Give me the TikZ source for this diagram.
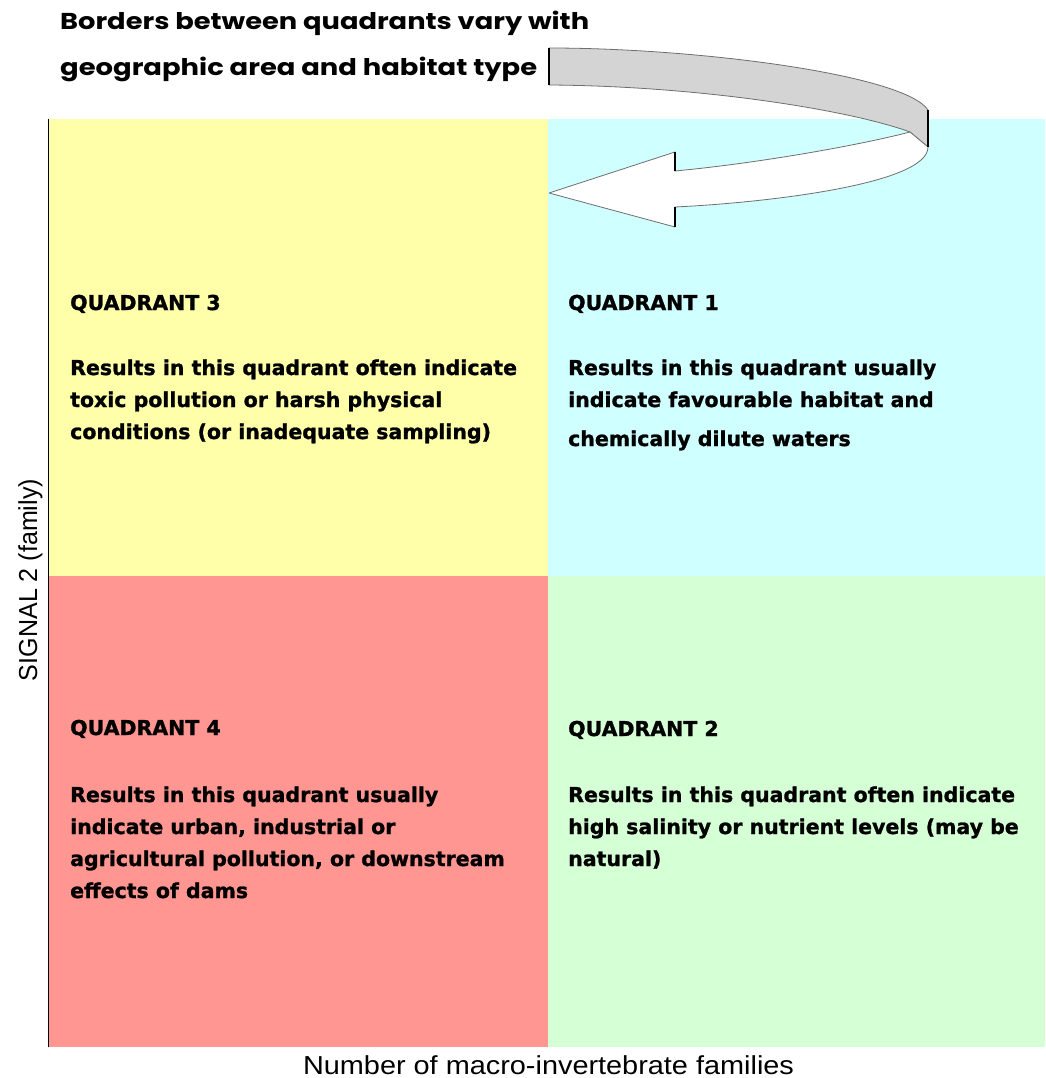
\documentclass[tikz,border=0pt]{standalone}
\usepackage{fontspec}
\usepackage{graphicx}
\newfontfamily\qfont{DejaVu Sans}[BoldFeatures={FakeBold=1.2}]
\newfontfamily\tfont{Poppins}
\newfontfamily\afont{Liberation Sans}
\newlength\fitlen
\newcommand\fitto[2]{\settowidth\fitlen{#2}\pgfmathsetmacro\fitfac{(#1)/\fitlen}\scalebox{\fitfac}[1]{#2}}
\definecolor{qyellow}{RGB}{255,255,170}
\definecolor{qcyan}{RGB}{208,255,255}
\definecolor{qred}{RGB}{255,150,145}
\definecolor{qgreen}{RGB}{213,255,213}
\definecolor{ribgrey}{RGB}{212,212,212}
\definecolor{ribedge}{RGB}{110,110,110}
\tikzset{
  qtext/.style={anchor=base west, inner sep=0pt, font=\qfont\bfseries\fontsize{20.5}{24}\selectfont},
  ttext/.style={anchor=base west, inner sep=0pt, font=\tfont\bfseries\fontsize{23}{27}\selectfont},
  axtext/.style={anchor=base, inner sep=0pt, font=\afont\fontsize{26}{30}\selectfont},
  ribbon/.style={draw=ribedge, line width=0.8pt, line join=round},
  endbar/.style={draw=black, line width=1.6pt},
}
\begin{document}
\begin{tikzpicture}[x=1pt,y=-1pt]
\useasboundingbox (0,0) rectangle (1045,1078);
% quadrants
\fill[qyellow] (48,119) rectangle (548,576);
\fill[qcyan] (548,119) rectangle (1045,576);
\fill[qred] (48,576) rectangle (548,1047);
\fill[qgreen] (548,576) rectangle (1045,1047);
\draw[black, line width=1.5pt] (48.5,119) -- (48.5,1047);
% title
\node[ttext] (t1) at (60,30) {\fitto{529pt}{Borders between quadrants vary with}};
\node[ttext] (t2) at (60,76) {\fitto{477pt}{geographic area and habitat type}};
% ribbon arrow
\coordinate (g0) at (549,48);
\coordinate (g1) at (549,85);
\coordinate (r0) at (928,110);
\coordinate (r1) at (928,147);
\coordinate (f) at (910,132);
\coordinate (a0) at (675,171);
\coordinate (a1) at (675,152);
\coordinate (tip) at (549,193);
\coordinate (a2) at (675,227);
\coordinate (a3) at (675,207);
\filldraw[ribbon, fill=ribgrey] (g0) .. controls (700,48) and (905,75) .. (r0) -- (r1) -- (f)
  .. controls (850,110) and (700,86) .. (g1) -- cycle;
\filldraw[ribbon, fill=white] (f) -- (r1) .. controls (928,185) and (760,203) .. (a3) -- (a2) -- (tip) -- (a1) -- (a0)
  .. controls (760,163) and (860,145) .. (f);
\draw[endbar] (g0) -- (g1);
\draw[endbar] (r0) -- (r1);
\draw[endbar] (a1) -- (a0);
\draw[endbar] (a3) -- (a2);
% quadrant 3
\node[qtext] (q3h) at (70,310) {QUADRANT 3};
\node[qtext] (q3a) at (70,375) {Results in this quadrant often indicate};
\node[qtext] (q3b) at (70,407) {toxic pollution or harsh physical};
\node[qtext] (q3c) at (70,439) {conditions (or inadequate sampling)};
% quadrant 1
\node[qtext] (q1h) at (568,310) {QUADRANT 1};
\node[qtext] (q1a) at (568,375) {Results in this quadrant usually};
\node[qtext] (q1b) at (568,407) {indicate favourable habitat and};
\node[qtext] (q1c) at (568,446) {chemically dilute waters};
% quadrant 4
\node[qtext] (q4h) at (70,735) {QUADRANT 4};
\node[qtext] (q4a) at (70,802) {Results in this quadrant usually};
\node[qtext] (q4b) at (70,834) {indicate urban, industrial or};
\node[qtext] (q4c) at (70,866) {agricultural pollution, or downstream};
\node[qtext] (q4d) at (70,898) {effects of dams};
% quadrant 2
\node[qtext] (q2h) at (568,736) {QUADRANT 2};
\node[qtext] (q2a) at (568,802) {Results in this quadrant often indicate};
\node[qtext] (q2b) at (568,834) {high salinity or nutrient levels (may be};
\node[qtext] (q2c) at (568,866) {natural)};
% axis labels
\node[axtext] (xl) at (548.5,1074) {\fitto{491pt}{Number of macro-invertebrate families}};
\node[axtext, rotate=90] (yl) at (37,580) {\fitto{202pt}{SIGNAL 2 (family)}};
\end{tikzpicture}
\end{document}
